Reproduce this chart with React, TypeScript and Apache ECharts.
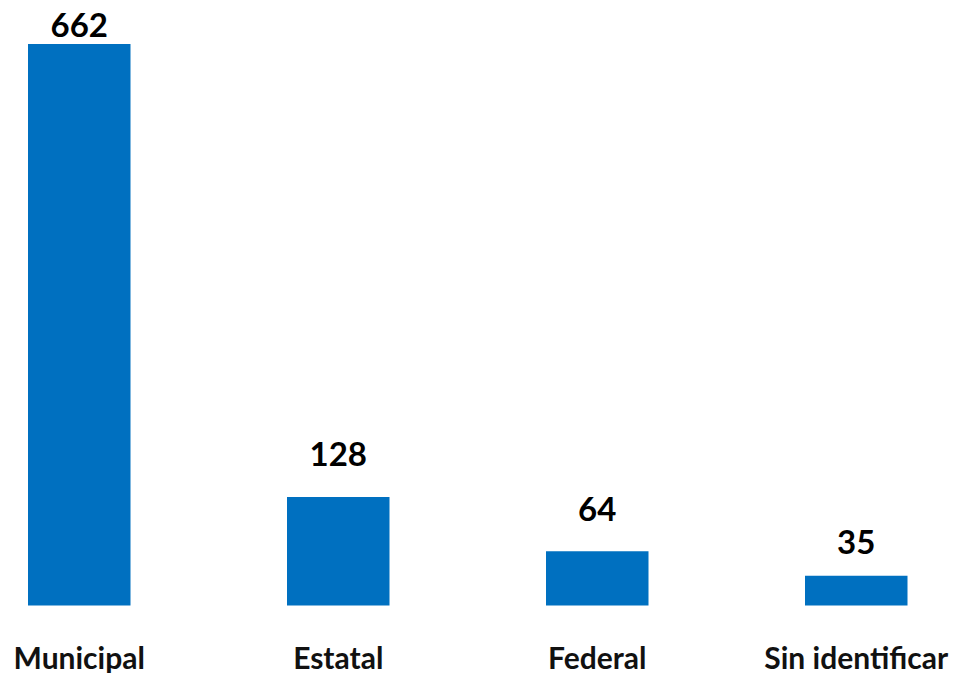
import React, { useEffect, useRef } from "react";
import * as echarts from "echarts";

const categories = ["Municipal", "Estatal", "Federal", "Sin identificar"];
const values = [662, 128, 64, 35];

// label gaps above each bar (style only)
const labelGaps = [4, 27, 27, 18];

export default function App() {
  const ref = useRef<HTMLDivElement>(null);
  useEffect(() => {
    if (!ref.current) return;
    const chart = echarts.init(ref.current, undefined, { renderer: "svg" });
    chart.setOption({
      animation: false,
      backgroundColor: "#ffffff",
      grid: { left: 79.25, top: 44, width: 777, height: 561.5, containLabel: false },
      xAxis: {
        type: "category",
        data: categories,
        boundaryGap: false,
        axisLine: { show: false },
        axisTick: { show: false },
        axisLabel: {
          interval: 0,
          margin: 36,
          fontFamily: "Lato",
          fontWeight: "bold",
          fontSize: 30,
          color: "#111111",
        },
      },
      yAxis: {
        type: "value",
        min: 0,
        max: 662,
        show: false,
        splitLine: { show: false },
      },
      series: [
        {
          type: "bar",
          barWidth: 102.5,
          itemStyle: { color: "#0070C0" },
          data: values.map((v, i) => ({
            value: v,
            label: {
              show: true,
              position: "top",
              distance: labelGaps[i],
              fontFamily: "Lato",
              fontWeight: "bold",
              fontSize: 33,
              color: "#000000",
            },
          })),
        },
      ],
    });
    return () => chart.dispose();
  }, []);
  return (
    <div
      ref={ref}
      style={{ position: "absolute", left: 0, top: 0, width: 955, height: 673 }}
    />
  );
}
